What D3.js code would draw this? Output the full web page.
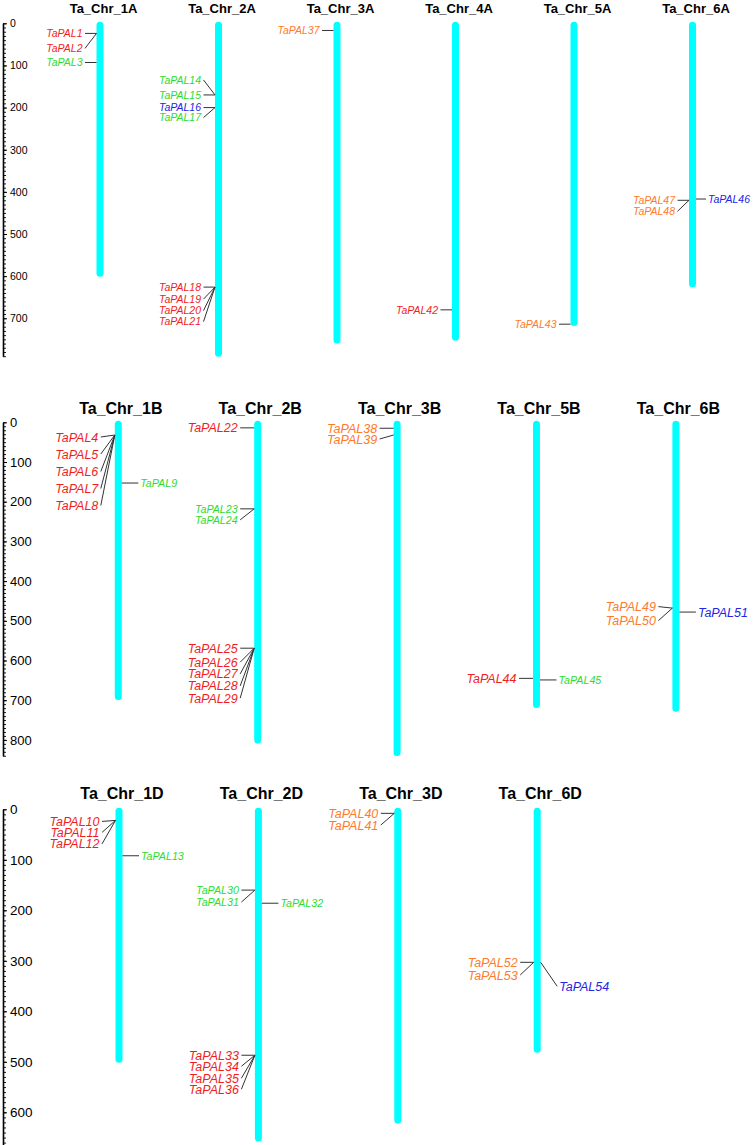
<!DOCTYPE html>
<html>
<head>
<meta charset="utf-8">
<script src="https://cdn.jsdelivr.net/npm/d3@7"></script>
<style>
  html, body { margin: 0; padding: 0; background: #fff; }
  svg { display: block; }
</style>
</head>
<body>
<script>
// ---------------- DATA ----------------
const panel1Chr = ["Ta_Chr_1A", "Ta_Chr_2A", "Ta_Chr_3A", "Ta_Chr_4A", "Ta_Chr_5A", "Ta_Chr_6A"];
const panel1Len = [598, 788, 756, 750, 715, 623];
const panel2Chr = ["Ta_Chr_1B", "Ta_Chr_2B", "Ta_Chr_3B", "Ta_Chr_5B", "Ta_Chr_6B"];
const panel2Len = [696, 805, 837, 716, 725];
const panel3Chr = ["Ta_Chr_1D", "Ta_Chr_2D", "Ta_Chr_3D", "Ta_Chr_6D"];
const panel3Len = [499, 655, 619, 479];

const geneNames = ["TaPAL1","TaPAL2","TaPAL3","TaPAL4","TaPAL5","TaPAL6","TaPAL7","TaPAL8","TaPAL9",
  "TaPAL10","TaPAL11","TaPAL12","TaPAL13","TaPAL14","TaPAL15","TaPAL16","TaPAL17","TaPAL18",
  "TaPAL19","TaPAL20","TaPAL21","TaPAL22","TaPAL23","TaPAL24","TaPAL25","TaPAL26","TaPAL27",
  "TaPAL28","TaPAL29","TaPAL30","TaPAL31","TaPAL32","TaPAL33","TaPAL34","TaPAL35","TaPAL36",
  "TaPAL37","TaPAL38","TaPAL39","TaPAL40","TaPAL41","TaPAL42","TaPAL43","TaPAL44","TaPAL45",
  "TaPAL46","TaPAL47","TaPAL48","TaPAL49","TaPAL50","TaPAL51","TaPAL52","TaPAL53","TaPAL54"];
const geneChr = ["1A","1A","1A","1B","1B","1B","1B","1B","1B",
  "1D","1D","1D","1D","2A","2A","2A","2A","2A",
  "2A","2A","2A","2B","2B","2B","2B","2B","2B",
  "2B","2B","2D","2D","2D","2D","2D","2D","2D",
  "3A","3B","3B","3D","3D","4A","5A","5B","5B",
  "6A","6A","6A","6B","6B","6B","6D","6D","6D"];
const genePos = [24,24,93,32,32,32,32,32,153,
  22,22,22,92,170,170,200,200,626,
  626,626,626,14,218,218,569,569,569,
  569,569,160,160,186,487,487,487,487,
  17,15,32,8,8,680,714,645,649,
  417,420,420,468,468,478,303,303,303];
const geneGroup = ["g1","g1","g2","g1","g1","g1","g1","g1","g2",
  "g1","g1","g1","g2","g2","g2","g3","g2","g1",
  "g1","g1","g1","g1","g2","g2","g1","g1","g1",
  "g1","g1","g2","g2","g2","g1","g1","g1","g1",
  "g4","g4","g4","g4","g4","g1","g4","g1","g2",
  "g3","g4","g4","g4","g4","g3","g4","g4","g3"];
const geneSide = ["L","L","L","L","L","L","L","L","R",
  "L","L","L","R","L","L","L","L","L",
  "L","L","L","L","L","L","L","L","L",
  "L","L","L","L","R","L","L","L","L",
  "L","L","L","L","L","L","L","L","R",
  "R","L","L","L","L","R","L","L","R"];

// ---------------- LAYOUT / STYLE ----------------
const groupColor = { g1: "#f01e1e", g2: "#2edc2e", g3: "#2424e6", g4: "#ff7a2a" };
// vertical label nudges (px) for stacked labels
const labelDy = {
  TaPAL2: 15, TaPAL14: -15, TaPAL17: 10, TaPAL19: 12, TaPAL20: 23.5, TaPAL21: 34.5, TaPAL48: 11,
  TaPAL4: 2, TaPAL5: 19, TaPAL6: 36.5, TaPAL7: 53.5, TaPAL8: 70.5,
  TaPAL24: 11, TaPAL26: 14, TaPAL27: 25.7, TaPAL28: 37.7, TaPAL29: 50, TaPAL39: 4,
  TaPAL49: -1.5, TaPAL50: 12.5,
  TaPAL10: 1, TaPAL11: 12, TaPAL12: 23.5, TaPAL31: 12, TaPAL34: 11, TaPAL35: 23, TaPAL36: 34,
  TaPAL41: 11.7, TaPAL53: 12.7, TaPAL54: 24
};

const panels = [
  { chrs: panel1Chr, lens: panel1Len, axisMax: 790, y0: 23.3, k: 0.4214, x0: 100, step: 118.5,
    titleY: 13, titleSize: 13, titleDx: 3.5, labelSize: 10.5, greenSize: 10.5, tickSize: 10.5,
    leftLen: 11.5, rightLen: 10, barW: 7 },
  { chrs: panel2Chr, lens: panel2Len, axisMax: 840, y0: 422.3, k: 0.397, x0: 118.3, step: 139.4,
    titleY: 414, titleSize: 16, titleDx: 2.5, labelSize: 12.5, greenSize: 10.7, tickSize: 13,
    leftLen: 14, rightLen: 16.5, barW: 7 },
  { chrs: panel3Chr, lens: panel3Len, axisMax: 670, y0: 809.3, k: 0.505, x0: 119, step: 139.4,
    titleY: 799, titleSize: 16, titleDx: 3, labelSize: 12.5, greenSize: 10.7, tickSize: 13.5,
    leftLen: 13.5, rightLen: 16.5, barW: 7 }
];

const W = 753, H = 1145;
const svg = d3.select("body").append("svg")
  .attr("width", W).attr("height", H)
  .attr("viewBox", `0 0 ${W} ${H}`);
svg.append("rect").attr("width", W).attr("height", H).attr("fill", "#fff");

const genes = geneNames.map((n, i) => ({
  name: n, chr: "Ta_Chr_" + geneChr[i], pos: genePos[i], group: geneGroup[i], side: geneSide[i]
}));

panels.forEach(p => {
  const g = svg.append("g");
  const y = d3.scaleLinear().domain([0, p.axisMax]).range([p.y0, p.y0 + p.axisMax * p.k]);
  const x = d3.scalePoint().domain(p.chrs).range([p.x0, p.x0 + p.step * (p.chrs.length - 1)]);

  // axis: minor ticks
  const minor = g.append("g").attr("transform", "translate(3,0)")
    .call(d3.axisRight(y).tickValues(d3.range(0, p.axisMax + 1, 10)).tickSize(3).tickSizeOuter(0).tickFormat(""));
  minor.select(".domain").attr("stroke", "#000").attr("stroke-width", 1.6);
  minor.selectAll(".tick line").attr("stroke", "#000").attr("stroke-width", 0.9);

  const major = g.append("g").attr("transform", "translate(3,0)")
    .call(d3.axisRight(y).tickValues(d3.range(0, p.axisMax + 1, 100)).tickSize(4).tickSizeOuter(0).tickPadding(3));
  major.select(".domain").remove();
  major.selectAll(".tick line").attr("stroke", "#000").attr("stroke-width", 1);
  major.selectAll(".tick text")
    .attr("font-family", "Liberation Sans, Arial, sans-serif")
    .attr("font-size", p.tickSize)
    .attr("fill", "#000");

  // chromosomes
  const chrData = p.chrs.map((c, i) => ({ c, len: p.lens[i] }));
  g.selectAll("rect.chr").data(chrData).enter().append("rect")
    .attr("class", "chr")
    .attr("x", d => x(d.c) - p.barW / 2)
    .attr("y", y(0) - 1.5)
    .attr("width", p.barW)
    .attr("height", d => y(d.len) - y(0) + 3)
    .attr("rx", p.barW / 2)
    .attr("fill", "#00ffff");

  // titles
  g.selectAll("text.title").data(chrData).enter().append("text")
    .attr("class", "title")
    .attr("x", d => x(d.c) + p.titleDx)
    .attr("y", p.titleY)
    .attr("text-anchor", "middle")
    .attr("font-family", "Liberation Sans, Arial, sans-serif")
    .attr("font-weight", "bold")
    .attr("font-size", p.titleSize)
    .attr("fill", "#000")
    .text(d => d.c);

  // genes
  const pg = genes.filter(d => p.chrs.includes(d.chr));
  pg.forEach(d => {
    const gy = y(d.pos);
    const ly = gy + (labelDy[d.name] || 0);
    const left = d.side === "L";
    const edge = x(d.chr) + (left ? -p.barW / 2 : p.barW / 2);
    const lx = left ? edge - p.leftLen : edge + p.rightLen;
    g.append("line")
      .attr("x1", edge).attr("y1", gy)
      .attr("x2", lx).attr("y2", ly)
      .attr("stroke", "#333").attr("stroke-width", 1);
    g.append("text")
      .attr("x", left ? lx - 2.5 : lx + 2)
      .attr("y", ly)
      .attr("dy", "0.36em")
      .attr("text-anchor", left ? "end" : "start")
      .attr("font-family", "Liberation Sans, Arial, sans-serif")
      .attr("font-style", "italic")
      .attr("font-size", d.group === "g2" ? p.greenSize : p.labelSize)
      .attr("fill", groupColor[d.group])
      .text(d.name);
  });
});
</script>
</body>
</html>
